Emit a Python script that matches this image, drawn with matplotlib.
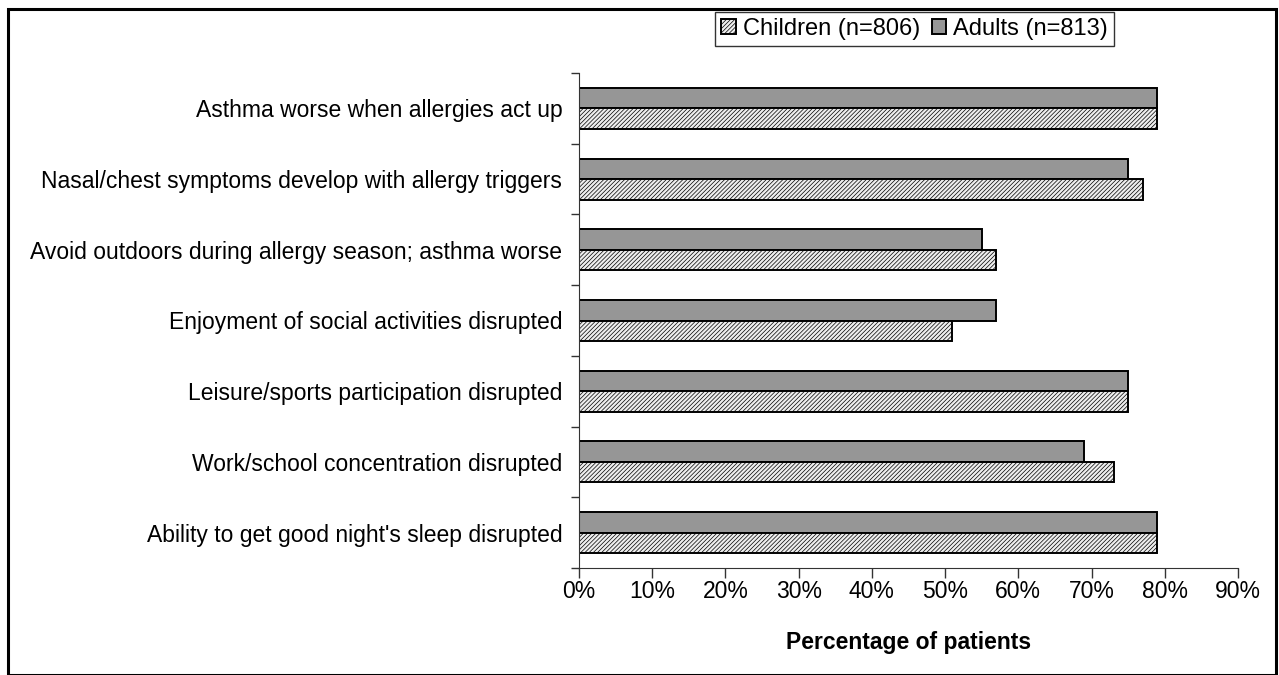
import numpy as np
import matplotlib.pyplot as plt
from matplotlib.patches import Rectangle
from matplotlib.ticker import FixedLocator, NullFormatter

plt.rcParams['font.family'] = ['Liberation Sans', 'DejaVu Sans']
plt.rcParams['hatch.color'] = '#cdcdcd'
plt.rcParams['hatch.linewidth'] = 0.5

categories = ["Asthma worse when allergies act up",
              "Nasal/chest symptoms develop with allergy triggers",
              "Avoid outdoors during allergy season; asthma worse",
              "Enjoyment of social activities disrupted",
              "Leisure/sports participation disrupted",
              "Work/school concentration disrupted",
              "Ability to get good night's sleep disrupted"]
children = [79, 77, 57, 51, 75, 73, 79]
adults = [79, 75, 55, 57, 75, 69, 79]
xticks = [0, 10, 20, 30, 40, 50, 60, 70, 80, 90]

fig = plt.figure(figsize=(12.79, 6.75), dpi=100)
W, H = 1279, 675
ax = fig.add_axes([579 / W, 1 - 568 / H, (1238 - 579) / W, (568 - 73) / H])

y = np.arange(len(categories))
h = 0.29
ax.barh(y - h / 2, adults, height=h, color='#969696', edgecolor='black',
        linewidth=1.4, label='Adults (n=813)')
ax.barh(y + h / 2, children, height=h, color='#eeeeee', edgecolor='black',
        linewidth=1.4, hatch='////////', label='Children (n=806)')

ax.set_ylim(len(categories) - 0.5, -0.5)
ax.set_xlim(0, 90)
ax.set_yticks(y)
ax.set_yticklabels(categories, fontsize=16.5)
ax.yaxis.set_minor_locator(FixedLocator(np.arange(-0.5, len(categories), 1)))
ax.yaxis.set_minor_formatter(NullFormatter())
ax.tick_params(axis='y', which='major', length=0, pad=12)
ax.tick_params(axis='y', which='minor', length=6, width=1, color='#333333')
ax.set_xticks(xticks)
ax.set_xticklabels([f'{v}%' for v in xticks], fontsize=16.5)
ax.tick_params(axis='x', length=7, width=1, color='#333333', pad=2)

for s in ['top', 'right']:
    ax.spines[s].set_visible(False)
ax.spines['left'].set_color('#333333')
ax.spines['bottom'].set_color('#333333')
ax.set_xlabel('Percentage of patients', fontsize=16.5, fontweight='bold', labelpad=20)

handles, labels = ax.get_legend_handles_labels()
leg = fig.legend(handles[::-1], labels[::-1], loc='center', ncol=2,
                 bbox_to_anchor=(914.5 / W, 1 - 29 / H), fontsize=17,
                 frameon=True, fancybox=False, edgecolor='black',
                 handlelength=0.6, handleheight=0.6, handletextpad=0.3,
                 columnspacing=0.5, borderpad=0.25, borderaxespad=0)
leg.get_frame().set_linewidth(1.0)

fig.patches.append(Rectangle((8 / W, 0), 1268 / W, 1 - 9 / H, transform=fig.transFigure,
                             fill=False, edgecolor='black', linewidth=2.2))

fig.savefig('out.png', dpi=100)
